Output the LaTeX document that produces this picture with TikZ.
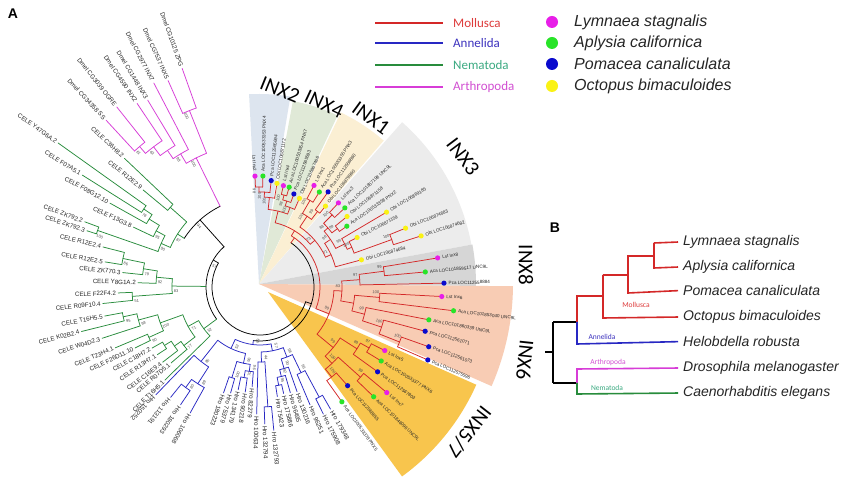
\documentclass[tikz,border=0pt]{standalone}
\usepackage{fontspec}
\setmainfont{Liberation Sans}
\newfontfamily\calib{Carlito}
\definecolor{molc}{RGB}{212,40,40}
\definecolor{annc}{RGB}{40,40,195}
\definecolor{nemc}{RGB}{40,140,60}
\definecolor{artc}{RGB}{215,60,215}
\definecolor{molt}{RGB}{222,60,60}
\definecolor{annt}{RGB}{60,50,190}
\definecolor{nemt}{RGB}{60,170,130}
\definecolor{artt}{RGB}{210,80,210}
\definecolor{dm}{RGB}{232,30,232}
\definecolor{dg}{RGB}{40,228,40}
\definecolor{db}{RGB}{10,10,205}
\definecolor{dy}{RGB}{250,242,20}
\definecolor{w2}{RGB}{221,229,239}
\definecolor{w4}{RGB}{224,233,215}
\definecolor{w1}{RGB}{251,239,211}
\definecolor{w3}{RGB}{236,236,236}
\definecolor{w8}{RGB}{214,214,214}
\definecolor{w6}{RGB}{248,204,180}
\definecolor{w57}{RGB}{248,197,77}
\newcounter{lb}
\newcommand\setrot[1]{\pgfmathsetmacro\cs{cos(#1)}\ifdim\cs pt<0pt \pgfmathsetmacro\rt{#1-180}\def\an{east}\else\pgfmathsetmacro\rt{#1}\def\an{west}\fi}
\newcommand\cl[6]{\draw[#6] (#1:#2) -- (#1:#3);\draw[#6] (#4:#3) arc[start angle=#4,end angle=#5,radius=#3];}
\newcommand\lf[5]{\draw[#4] (#1:#2) -- (#1:#3);\setrot{#1}\pgfmathsetmacro\rr{#3+2}\stepcounter{lb}\node[lab,rotate=\rt,anchor=\an] (t\thelb) at (#1:\rr) {#5};}
\newcommand\lfo[5]{\draw[#4] (#1:#2) -- (#1:#3);\pgfmathsetmacro\rr{#3+2}\stepcounter{lb}\node[lab,rotate=#1,anchor=west] (t\thelb) at (#1:\rr) {#5};}
\newcommand\lfd[5]{\draw[mol] (#1:#2) -- (#1:#3);\fill[#4] (#1:#3) circle[radius=2.6];\setrot{#1}\pgfmathsetmacro\rr{#3+4.5}\stepcounter{lb}\node[mlab,rotate=\rt,anchor=\an] (t\thelb) at (#1:\rr) {#5};}
\newcommand\bs[3]{\setrot{#1}\pgfmathsetmacro\ba{#1+286/#2}\pgfmathsetmacro\br{#2-4}\stepcounter{lb}\node[bsl,rotate=\rt] (t\thelb) at (\ba:\br) {#3};}
\begin{document}
\begin{tikzpicture}[x=1pt,y=1pt,
  lab/.style={font=\fontsize{6.2}{7}\selectfont,inner sep=0pt,text=black!85},
  mlab/.style={font=\fontsize{4.6}{5}\selectfont,inner sep=0pt,text=black!85},
  bsl/.style={font=\fontsize{4}{5}\selectfont,inner sep=0pt,text=black!70},
  br/.style={line width=0.75pt,line cap=round,line join=round},
  mol/.style={br,draw=molc}, ann/.style={br,draw=annc}, nem/.style={br,draw=nemc},
  art/.style={br,draw=artc}, blk/.style={br,draw=black},
  inxl/.style={font=\calib\fontsize{21}{24}\selectfont,inner sep=0pt},
  legt/.style={font=\calib\fontsize{13}{15}\selectfont,inner sep=0pt,anchor=west},
  legs/.style={font=\itshape\fontsize{16}{18}\selectfont,inner sep=0pt,anchor=west,text=black!85},
  pb/.style={line width=1.6pt},
  spb/.style={font=\itshape\fontsize{14}{16}\selectfont,inner sep=0pt,anchor=mid west,text=black!85},
  grp/.style={font=\calib\fontsize{7.5}{9}\selectfont,inner sep=0pt},
  pan/.style={font=\bfseries\fontsize{14}{16}\selectfont,inner sep=0pt}]
\useasboundingbox (0,0) rectangle (850,484);
\fill[white] (0,0) rectangle (850,484);
% ---------- wedges
\begin{scope}[shift={(259,200)}]
 \fill[w2] (0,0) -- (80.5:190) arc[start angle=80.5,end angle=93,radius=190] -- cycle;
 \fill[w4] (0,0) -- (65:186) arc[start angle=65,end angle=79.5,radius=186] -- cycle;
 \fill[w1] (0,0) -- (49:190) arc[start angle=49,end angle=64.5,radius=190] -- cycle;
 \fill[w3] (0,0) -- (10.5:216) arc[start angle=10.5,end angle=48.5,radius=216] -- cycle;
 \fill[w8] (0,0) -- (-0.5:217) arc[start angle=-0.5,end angle=10.5,radius=217] -- cycle;
 \fill[w6] (0,0) -- (-23.7:254) arc[start angle=-23.7,end angle=-0.5,radius=254] -- cycle;
\end{scope}
\begin{scope}[shift={(268,192)}]
 \fill[w57] (0,0) -- (-54:228) arc[start angle=-54,end angle=-24,radius=228] -- cycle;
\end{scope}
% ---------- tree
\begin{scope}[shift={(260,197)}]
 % root
 \draw[blk] (150:48) arc[start angle=150,end angle=342,radius=48];
 \draw[blk] (342:48) -- (342:54);
 \draw[blk] (262.9:54) arc[start angle=262.9,end angle=415,radius=54];
 \draw[blk] (150:48) -- (150:54);
 \draw[blk] (131.8:54) arc[start angle=131.8,end angle=216.55,radius=54];
 \cl{131.8}{54}{90}{116.3}{147.3}{blk}
 % Mollusca
 \cl{55}{54}{60}{-21.2}{58.5}{mol}
 \cl{58.5}{60}{66}{40.4}{76.65}{mol}
 \cl{76.65}{66}{78}{69.3}{84}{mol}
 \cl{84}{78}{90}{80.7}{87.3}{mol}
 \cl{87.3}{90}{95}{84}{90.55}{mol}
 \cl{90.55}{95}{100}{88.5}{92.6}{mol}
 \cl{69.3}{78}{85}{66}{72.7}{mol}
 \cl{72.7}{85}{90}{70}{75.35}{mol}
 \cl{75.35}{90}{95}{73.7}{77}{mol}
 \cl{40.4}{66}{72}{24.5}{56.35}{mol}
 \cl{56.35}{72}{85}{52.7}{60}{mol}
 \cl{60}{85}{100}{58}{62}{mol}
 \cl{52.7}{85}{95}{51}{54.4}{mol}
 \cl{24.5}{72}{78}{15}{34}{mol}
 \cl{34}{78}{85}{27}{41}{mol}
 \cl{41}{85}{90}{37}{45}{mol}
 \cl{45}{90}{102}{43}{47}{mol}
 \cl{37}{90}{97}{35}{39}{mol}
 \cl{27}{85}{95}{23.4}{30.6}{mol}
 \cl{23.4}{95}{100}{19.8}{27}{mol}
 \cl{19.8}{100}{140}{17.6}{22}{mol}
 \cl{-21.2}{60}{74}{-39.6}{-2.8}{mol}
 \cl{-2.8}{74}{82}{-9.8}{4.2}{mol}
 \cl{4.2}{82}{100}{1.2}{7.25}{mol}
 \cl{7.25}{100}{125}{5.2}{9.3}{mol}
 \cl{-9.8}{82}{95}{-14.6}{-5}{mol}
 \cl{-5}{95}{120}{-7}{-3}{mol}
 \cl{-14.6}{95}{108}{-18.25}{-11}{mol}
 \cl{-18.25}{108}{128}{-21.5}{-15}{mol}
 \cl{-21.5}{128}{150}{-23.5}{-19.5}{mol}
 \cl{-39.6}{74}{95}{-46.7}{-32.5}{mol}
 \cl{-32.5}{95}{115}{-35.8}{-29.2}{mol}
 \cl{-29.2}{115}{125}{-31.4}{-27}{mol}
 \cl{-46.7}{95}{105}{-51.45}{-41.9}{mol}
 \cl{-41.9}{105}{135}{-44}{-39.8}{mol}
 \cl{-51.45}{105}{115}{-54.5}{-48.4}{mol}
 \lfd{92.6}{100}{111}{dm}{Lst Inx2}
 \lfd{88.5}{100}{111}{dg}{Aca LOC100533353 PNX4}
 \lfd{84}{95}{107}{db}{Pca LOC112565694}
 \lfd{80.7}{90}{105}{dy}{Obi LOC106871172}
 \lfd{77}{95}{104}{dm}{Lst Inx4}
 \lfd{73.7}{95}{104}{dg}{Aca LOC100533354 PNX7}
 \lfd{70}{90}{99}{db}{Pca LOC112565593}
 \lfd{66}{85}{97}{dy}{Obi LOC106867466}
 \lfd{62}{100}{115}{dm}{Lst Inx1}
 \lfd{58}{100}{112}{dg}{Aca LOC100533355 PNX3}
 \lfd{54.4}{95}{117}{db}{Pca LOC112556860}
 \lfd{51}{95}{104}{dy}{Obi LOC106879960}
 \lfd{47}{102}{115}{dm}{Lst Inx3}
 \lfd{43}{102}{116}{dg}{Aca LOC101857198 UNC9L}
 \lfd{39}{97}{112}{dy}{Obi LOC106871158}
 \lfd{35}{97}{106}{dg}{Aca LOC100533358 PNX2}
 \lfd{30.6}{95}{147}{dy}{Obi LOC106869185}
 \lfd{27}{100}{109}{dy}{Obi LOC106871159}
 \lfd{22}{140}{157}{dy}{Obi LOC106874683}
 \lfd{17.6}{140}{169}{dy}{Obi LOC106874682}
 \lfd{15}{78}{105}{dy}{Obi LOC106874684}
 \lfd{9.3}{125}{180}{dm}{Lst Inx8}
 \lfd{5.2}{125}{166}{dg}{Aca LOC101859517 UNC9L}
 \lfd{1.2}{100}{184}{db}{Pca LOC112558884}
 \lfd{-3}{120}{182}{dm}{Lst Inx6}
 \lfd{-7}{120}{195}{dg}{Aca LOC101853040 UNC9L}
 \lfd{-11}{108}{172}{dg}{Aca LOC101860339 UNC9L}
 \lfd{-15}{128}{171}{db}{Pca LOC112561071}
 \lfd{-19.5}{150}{179}{db}{Pca LOC112561073}
 \lfd{-23.5}{150}{183}{db}{Pca LOC112575596}
 \lfd{-27}{125}{140}{dm}{Lst Inx5}
 \lfd{-31.4}{125}{142}{dg}{Aca LOC100533377 PNX6}
 \lfd{-35.8}{115}{145}{db}{Pca LOC112567803}
 \lfd{-39.8}{135}{165}{dm}{Lst Inx7}
 \lfd{-44}{135}{158}{dg}{Aca LOC101846096 UNC9L}
 \lfd{-48.4}{115}{132}{db}{Pca LOC112568855}
 \lfd{-54.5}{115}{141}{dg}{Aca LOC100533378 PNX5}
 % Arthropoda
 \cl{116.3}{90}{144}{111.8}{120.8}{art}
 \cl{111.8}{144}{190}{109.6}{114}{art}
 \cl{120.8}{144}{155}{117.5}{124.1}{art}
 \cl{124.1}{155}{165}{121}{127.2}{art}
 \cl{127.2}{165}{176}{123.8}{130.6}{art}
 \cl{130.6}{176}{185}{128.5}{132.7}{art}
 \lf{109.6}{190}{232}{art}{Dmel CG10125 ZPG}
 \lf{114}{190}{226}{art}{Dmel CG7537 INX5}
 \lf{117.5}{155}{230}{art}{Dmel CG2977 INX7}
 \lf{121}{165}{218}{art}{Dmel CG1448 INX3}
 \lf{123.8}{176}{221}{art}{Dmel CG4590 INX2}
 \lf{128.5}{185}{230}{art}{Dmel CG3039 OGRE}
 \lf{132.7}{185}{227}{art}{Dmel CG34358 SS}
 % Nematoda
 \cl{147.3}{90}{98}{138.4}{156.2}{nem}
 \cl{138.4}{98}{120}{136.5}{140.3}{nem}
 \cl{156.2}{98}{108}{151.6}{160.8}{nem}
 \cl{151.6}{108}{118}{148.5}{154.7}{nem}
 \cl{148.5}{118}{130}{146.15}{150.8}{nem}
 \cl{146.15}{130}{140}{144.5}{147.8}{nem}
 \cl{160.8}{108}{172}{159.6}{162}{nem}
 \cl{179.4}{54}{88}{174.6}{184.2}{nem}
 \cl{174.6}{88}{104}{171.1}{178}{nem}
 \cl{171.1}{104}{118}{168.25}{174}{nem}
 \cl{168.25}{118}{140}{165.7}{170.8}{nem}
 \cl{184.2}{88}{128}{182.4}{186}{nem}
 \cl{216.55}{54}{70}{208.7}{224.4}{nem}
 \cl{208.7}{70}{82}{199.8}{217.55}{nem}
 \cl{199.8}{82}{106}{195.2}{204.4}{nem}
 \cl{195.2}{106}{126}{192.3}{198}{nem}
 \cl{192.3}{126}{140}{190.6}{194}{nem}
 \cl{204.4}{106}{122}{202.8}{206}{nem}
 \cl{217.55}{82}{96}{214.6}{220.5}{nem}
 \cl{214.6}{96}{104}{211.45}{217.7}{nem}
 \cl{211.45}{104}{112}{209.5}{213.4}{nem}
 \lf{136.5}{120}{187}{nem}{CELE C36H8.2}
 \lf{140.3}{120}{152}{nem}{CELE R12E2.9}
 \lf{144.5}{140}{248}{nem}{CELE Y47G6A.2}
 \lf{147.8}{140}{210}{nem}{CELE F07A5.1}
 \lf{150.8}{130}{172}{nem}{CELE F08G12.10}
 \lf{154.7}{118}{140}{nem}{CELE F13G3.8}
 \lf{159.6}{172}{187}{nem}{CELE ZK792.2}
 \lf{162}{172}{182}{nem}{CELE ZK792.3}
 \lf{165.7}{140}{162}{nem}{CELE R12E2.4}
 \lf{170.8}{140}{157}{nem}{CELE R12E2.5}
 \lf{174}{118}{138}{nem}{CELE ZK770.3}
 \lf{178}{104}{122}{nem}{CELE Y8G1A.2}
 \lf{182.4}{128}{142}{nem}{CELE F22F4.2}
 \lf{186}{128}{158}{nem}{CELE R09F10.4}
 \lf{190.6}{140}{158}{nem}{CELE T16H5.5}
 \lf{194}{140}{184}{nem}{CELE K02B2.4}
 \lf{198}{126}{166}{nem}{CELE W04D2.3}
 \lf{202.8}{122}{157}{nem}{CELE T23H4.1}
 \lf{206}{122}{139}{nem}{CELE F26D11.10}
 \lf{209.5}{112}{124}{nem}{CELE C18H7.2}
 \lf{213.4}{112}{123}{nem}{CELE R13H7.1}
 \lf{217.7}{104}{123}{nem}{CELE C16E9.4}
 \lf{220.5}{96}{117}{nem}{CELE R07D5.1}
 \lf{224.4}{70}{133}{nem}{CELE T16H5.1}
 % Annelida
 \cl{262.9}{54}{58}{244.7}{281}{ann}
 \cl{244.7}{58}{68}{231.6}{257.75}{ann}
 \cl{231.6}{68}{95}{226}{237.25}{ann}
 \cl{237.25}{95}{115}{233.5}{241}{ann}
 \cl{233.5}{115}{125}{231}{236}{ann}
 \cl{257.75}{68}{78}{252.75}{262.75}{ann}
 \cl{252.75}{78}{95}{251}{254.5}{ann}
 \cl{262.75}{78}{85}{260}{265.5}{ann}
 \cl{260}{85}{92}{258}{262}{ann}
 \cl{281}{58}{65}{271.1}{291}{ann}
 \cl{271.1}{65}{75}{268.5}{273.75}{ann}
 \cl{273.75}{75}{120}{272}{275.5}{ann}
 \cl{291}{65}{75}{286.45}{295.6}{ann}
 \cl{286.45}{75}{85}{283.4}{289.5}{ann}
 \cl{283.4}{85}{92}{280.75}{286}{ann}
 \cl{280.75}{92}{100}{279}{282.5}{ann}
 \cl{295.6}{75}{95}{293}{298.25}{ann}
 \cl{298.25}{95}{125}{296.5}{300}{ann}
 \lfo{226}{95}{150}{ann}{Hro 150252}
 \lfo{231}{125}{142}{ann}{Hro 113191}
 \lfo{236}{125}{142}{ann}{Hro 180293}
 \lfo{241}{115}{144}{ann}{Hro 106068}
 \lfo{251}{95}{112}{ann}{Hro 180223}
 \lfo{254.5}{95}{110}{ann}{Hro 75379}
 \lfo{258}{92}{105}{ann}{Hro 134179}
 \lfo{262}{92}{106}{ann}{Hro 90218}
 \lfo{265.5}{85}{100}{ann}{Hro 82279}
 \lfo{268.5}{75}{127}{ann}{Hro 100634}
 \lfo{272}{120}{137}{ann}{Hro 132794}
 \lfo{275.5}{120}{144}{ann}{Hro 132793}
 \lfo{279}{100}{111}{ann}{Hro 75423}
 \lfo{282.5}{100}{109}{ann}{Hro 175886}
 \lfo{286}{92}{110}{ann}{Hro 96495}
 \lfo{289.5}{85}{111}{ann}{Hro 130216}
 \lfo{293}{95}{128}{ann}{Hro 96251}
 \lfo{296.5}{125}{142}{ann}{Hro 175908}
 \lfo{300}{125}{141}{ann}{Hro 179348}
 % bootstrap values
 \bs{90.55}{100}{98}\bs{87.3}{95}{100}\bs{84}{90}{100}\bs{75.35}{95}{100}\bs{72.7}{90}{98}
 \bs{69.3}{85}{100}\bs{60}{100}{100}\bs{52.7}{95}{99}\bs{56.35}{85}{100}\bs{45}{102}{100}
 \bs{37}{97}{99}\bs{41}{90}{88}\bs{19.8}{140}{100}\bs{23.4}{100}{100}\bs{27}{95}{99}
 \bs{34}{85}{98}\bs{24.5}{78}{71}\bs{40.4}{72}{73}\bs{7.25}{125}{99}\bs{4.2}{100}{97}
 \bs{-2.8}{82}{83}\bs{-5}{120}{100}\bs{-21.5}{150}{100}\bs{-18.25}{128}{100}\bs{-14.6}{108}{99}
 \bs{-29.2}{125}{97}\bs{-32.5}{115}{89}\bs{-41.9}{135}{99}\bs{-51.45}{115}{100}\bs{-46.7}{105}{100}
 \bs{-39.6}{95}{99}\bs{-21.2}{74}{99}
 \bs{116.3}{144}{100}\bs{111.8}{190}{100}\bs{120.8}{155}{98}\bs{127.2}{176}{63}\bs{130.6}{185}{61}
 \bs{131.8}{90}{94}\bs{147.3}{98}{87}\bs{150}{54}{57}
 \bs{146.15}{140}{78}\bs{151.6}{118}{95}\bs{160.8}{172}{100}\bs{156.2}{108}{90}\bs{168.25}{140}{86}
 \bs{171.1}{118}{79}\bs{174.6}{104}{92}\bs{184.2}{128}{51}\bs{179.4}{88}{83}\bs{192.3}{140}{95}
 \bs{195.2}{126}{98}\bs{199.8}{106}{100}\bs{204.4}{122}{90}\bs{208.7}{82}{71}\bs{216.55}{70}{52}
 \bs{217.55}{96}{77}
 \bs{262.9}{58}{99}\bs{281}{65}{57}\bs{244.7}{68}{52}\bs{231.6}{95}{85}\bs{237.25}{115}{89}
 \bs{233.5}{125}{80}\bs{252.75}{95}{100}\bs{257.75}{78}{96}\bs{262.75}{85}{96}\bs{260}{92}{70}
 \bs{271.1}{75}{44}\bs{280.75}{100}{95}\bs{283.4}{92}{92}\bs{286.45}{85}{90}\bs{295.6}{95}{96}
 \bs{291}{75}{98}
\end{scope}
% ---------- clade titles
\node[inxl,rotate=-22] (inx2) at (280,394) {INX2};
\node[inxl,rotate=-25] (inx4) at (324,380) {INX4};
\node[inxl,rotate=-36] (inx1) at (371,366) {INX1};
\node[inxl,rotate=-53] (inx3) at (463,327) {INX3};
\node[inxl,rotate=-90] (inx8) at (526,219) {INX8};
\node[inxl,rotate=-96] (inx6) at (525,124) {INX6};
\node[inxl,rotate=-128] (inx57) at (469,52) {INX5/7};
\node[pan] (pa) at (13,470) {A};
% ---------- legend
\draw[line width=2.2pt,draw=molc] (375,461) -- (443,461);
\draw[line width=2.2pt,draw=annc] (375,441) -- (443,441);
\draw[line width=2.2pt,draw=nemc] (375,419) -- (443,419);
\draw[line width=2.2pt,draw=artc] (375,397) -- (443,397);
\node[legt,text=molt] (lg1) at (453,461) {Mollusca};
\node[legt,text=annt] (lg2) at (453,441) {Annelida};
\node[legt,text=nemt] (lg3) at (453,419) {Nematoda};
\node[legt,text=artt] (lg4) at (453,397) {Arthropoda};
\fill[dm] (552,462) circle[radius=6];
\fill[dg] (552,441) circle[radius=6];
\fill[db] (552,420) circle[radius=6];
\fill[dy] (552,398) circle[radius=6];
\node[legs] (ls1) at (574,462) {Lymnaea stagnalis};
\node[legs] (ls2) at (574,441) {Aplysia californica};
\node[legs] (ls3) at (574,420) {Pomacea canaliculata};
\node[legs] (ls4) at (574,398) {Octopus bimaculoides};
% ---------- panel B
\node[pan] (pbB) at (555,256) {B};
\coordinate (r0) at (545,132); \coordinate (r1) at (553,132);
\coordinate (rt) at (553,162); \coordinate (rb) at (553,101);
\coordinate (u1) at (577,162); \coordinate (l1) at (577,101);
\coordinate (mt) at (577,188); \coordinate (hb) at (577,140);
\coordinate (m1) at (603,188); \coordinate (m1t) at (603,209); \coordinate (m1b) at (603,166);
\coordinate (m2) at (628,209); \coordinate (m2t) at (628,228); \coordinate (m2b) at (628,191);
\coordinate (m3) at (654,228); \coordinate (m3t) at (654,241); \coordinate (m3b) at (654,216);
\coordinate (dt) at (577,115); \coordinate (cb) at (577,90);
\node[spb] (sp1) at (683,241) {Lymnaea stagnalis};
\node[spb] (sp2) at (683,216) {Aplysia californica};
\node[spb] (sp3) at (683,191) {Pomacea canaliculata};
\node[spb] (sp4) at (683,166) {Octopus bimaculoides};
\node[spb] (sp5) at (683,140) {Helobdella robusta};
\node[spb] (sp6) at (683,115) {Drosophila melanogaster};
\node[spb] (sp7) at (683,90) {Caenorhabditis elegans};
\draw[pb] (r0) -- (r1);
\draw[pb] (rt) -- (rb);
\draw[pb] (rt) -- (u1);
\draw[pb] (rb) -- (l1);
\draw[pb,draw=molc] (u1) -- (mt) -- (m1);
\draw[pb,draw=annc] (u1) -- (hb) -- ([xshift=-5pt]sp5.west);
\draw[pb,draw=molc] (m1t) -- (m1b) -- ([xshift=-5pt]sp4.west);
\draw[pb,draw=molc] (m2) -- (m2t) -- (m3);
\draw[pb,draw=molc] (m2) -- (m2b) -- ([xshift=-5pt]sp3.west);
\draw[pb,draw=molc] (m3t) -- ([xshift=-5pt]sp1.west);
\draw[pb,draw=molc] (m3t) -- (m3b) -- ([xshift=-5pt]sp2.west);
\draw[pb,draw=molc] (m1t) -- (m2);
\draw[pb,draw=artc] (l1) -- (dt) -- ([xshift=-5pt]sp6.west);
\draw[pb,draw=nemc] (l1) -- (cb) -- ([xshift=-5pt]sp7.west);
\node[grp,text=molt] (gm) at (636,179) {Mollusca};
\node[grp,text=annt] (ga) at (602,147) {Annelida};
\node[grp,text=artt] (gr) at (608,121) {Arthropoda};
\node[grp,text=nemt] (gn) at (607,96) {Nematoda};
\end{tikzpicture}
\end{document}
